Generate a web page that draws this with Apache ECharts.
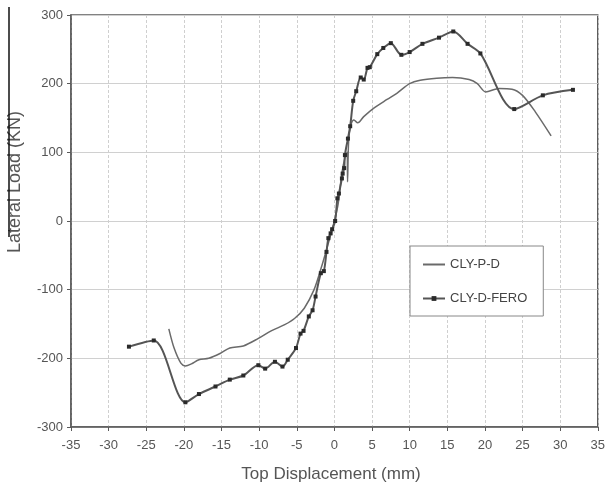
<!DOCTYPE html>
<html>
<head>
<meta charset="utf-8">
<script src="https://cdn.jsdelivr.net/npm/echarts@6/dist/echarts.min.js"></script>
<style>html,body{margin:0;padding:0;background:#fff}#c{width:608px;height:488px}</style>
</head>
<body>
<div id="c"></div>
<script>
// Tick values
const xTicks = [-35,-30,-25,-20,-15,-10,-5,0,5,10,15,20,25,30,35];
const yTicks = [-300,-200,-100,0,100,200,300];

// CLY-P-D (line only)
const pdX = [-22,-21.3,-20.4,-19.8,-19,-18,-16.7,-15.2,-13.9,-12.1,-10.1,-8.4,-6.6,-5.3,-4,-2.7,-1.8,-1,0,0.5,1.0,1.4,1.7,1.75,1.9,2.2,2.6,3.1,3.9,5.2,7.0,8.3,10.0,11.4,13.6,15.7,17.9,19.0,20.1,21.9,23.6,25.0,26.7,28.8];
const pdY = [-157,-185,-207,-211,-208,-202,-200,-193,-185,-182,-171,-160,-151,-142,-127,-100,-70,-40,0,25,70,92,100,57,118,140,147,143,152,164,177,186,200,205,208,209,206,200,188,193,192,183,159,124];

// CLY-D-FERO (line with markers)
const feroX = [-27.3,-24.0,-19.8,-18.0,-15.8,-13.9,-12.1,-10.1,-9.2,-7.9,-6.9,-6.2,-5.1,-4.5,-4.1,-3.4,-2.9,-2.5,-1.8,-1.4,-1.05,-0.8,-0.5,-0.3,0.1,0.4,0.6,1.0,1.1,1.3,1.4,1.8,2.1,2.5,2.9,3.5,3.9,4.4,4.7,5.7,6.5,7.5,8.9,10.0,11.7,13.9,15.8,17.7,19.4,23.9,27.7,31.7];
const feroY = [-183,-174,-264,-252,-241,-231,-225,-210,-215,-205,-212,-202,-185,-164,-160,-139,-130,-110,-76,-73,-45,-25,-18,-12,0,33,40,62,69,77,96,120,138,175,189,209,206,223,224,243,252,259,242,246,258,267,276,258,244,163,183,191];

const pair = (xs, ys) => xs.map((x, i) => [x, ys[i]]);
const FONT = 'Liberation Sans, Arial, sans-serif';

const chart = echarts.init(document.getElementById('c'), null, {renderer: 'canvas'});
chart.setOption({
  animation: false,
  backgroundColor: '#ffffff',
  grid: {left: 71, right: 5, top: 15, bottom: 61, show: true, borderColor: '#5a5a5a', borderWidth: 1.5, containLabel: false},
  xAxis: {
    type: 'value', min: xTicks[0], max: xTicks[xTicks.length-1], interval: 5,
    axisLine: {show: true, onZero: false, lineStyle: {color: '#5a5a5a', width: 1.5}},
    axisTick: {show: true, inside: false, length: 4, lineStyle: {color: '#5a5a5a'}},
    axisLabel: {fontFamily: FONT, fontSize: 13, color: '#555', margin: 12},
    splitLine: {show: true, lineStyle: {color: '#cfcfcf', type: [3, 2], width: 1}}
  },
  yAxis: {
    type: 'value', min: yTicks[0], max: yTicks[yTicks.length-1], interval: 100,
    axisLine: {show: true, onZero: false, lineStyle: {color: '#5a5a5a', width: 1.5}},
    axisTick: {show: true, inside: false, length: 4, lineStyle: {color: '#5a5a5a'}},
    axisLabel: {fontFamily: FONT, fontSize: 13, color: '#555', margin: 8},
    splitLine: {show: true, lineStyle: {color: '#d0d0d0', width: 1}}
  },
  legend: {
    orient: 'vertical', left: 410, top: 246,
    padding: [12, 16, 11, 12], itemGap: 21, itemWidth: 22, itemHeight: 6,
    backgroundColor: '#fff', borderColor: '#888', borderWidth: 1,
    textStyle: {fontFamily: FONT, fontSize: 13, color: '#444'},
    data: [
      {name: 'CLY-P-D', itemStyle: {opacity: 0}},
      {name: 'CLY-D-FERO'}
    ]
  },
  graphic: [
    {type: 'text', x: 15, y: 182, rotation: Math.PI/2,
     style: {text: 'Lateral Load (KN)', fontFamily: FONT, fontSize: 18, fill: '#555', align: 'center', verticalAlign: 'middle'}},
    {type: 'text', x: 331, y: 474,
     style: {text: 'Top Displacement (mm)', fontFamily: FONT, fontSize: 17, fill: '#555', align: 'center', verticalAlign: 'middle'}},
    {type: 'line', shape: {x1: 9, y1: 7, x2: 9, y2: 237}, style: {stroke: '#111', lineWidth: 1.5}}
  ],
  series: [
    {
      name: 'CLY-P-D', type: 'line', data: pair(pdX, pdY),
      smooth: 0.3, showSymbol: false, symbol: 'none',
      lineStyle: {color: '#6a6a6a', width: 1.5}, itemStyle: {color: '#6a6a6a'}
    },
    {
      name: 'CLY-D-FERO', type: 'line', data: pair(feroX, feroY),
      smooth: 0.3, symbol: 'rect', symbolSize: 4,
      lineStyle: {color: '#555', width: 2}, itemStyle: {color: '#2a2a2a'}
    }
  ]
});
</script>
</body>
</html>
